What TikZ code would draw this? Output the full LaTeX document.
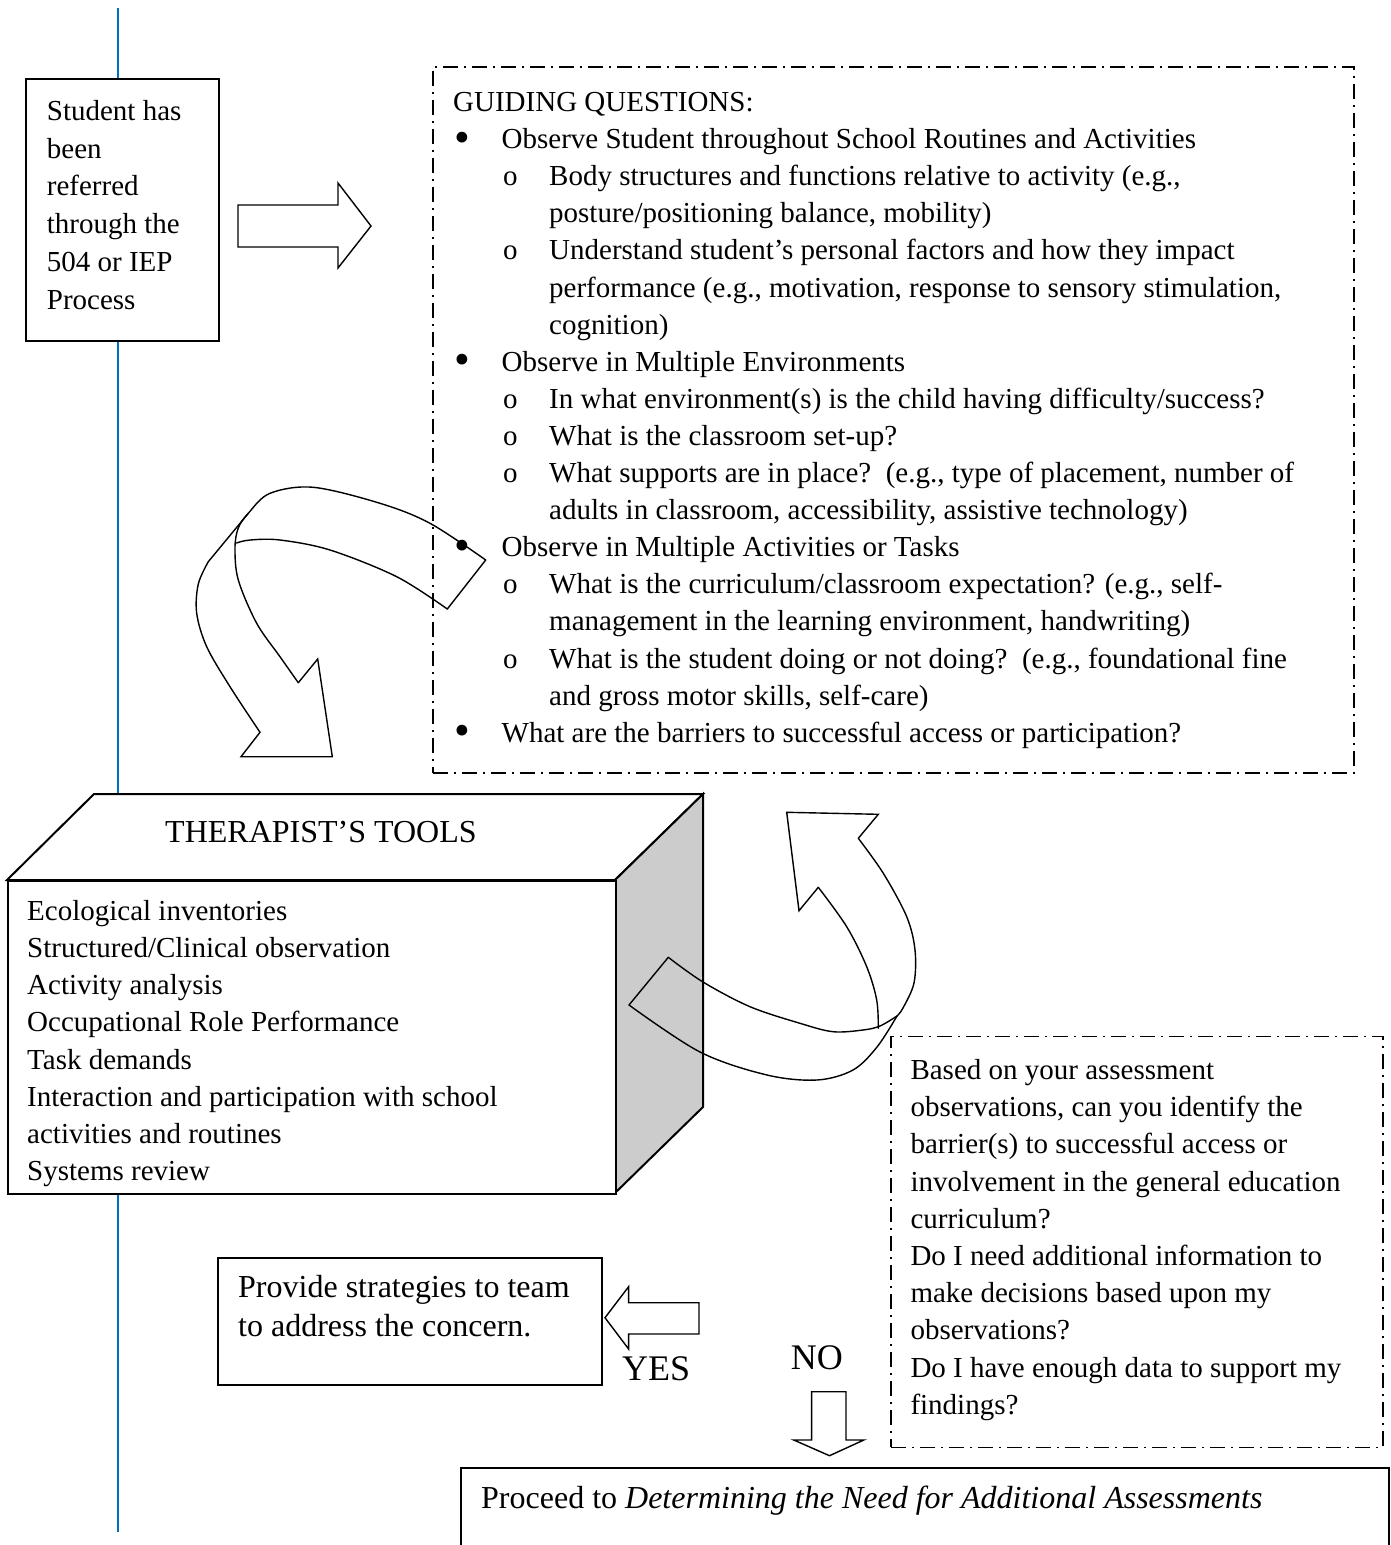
\documentclass[tikz,border=0pt]{standalone}
\usepackage{fontspec}
\setmainfont{Liberation Serif}
\definecolor{lineblue}{RGB}{0,112,192}
\definecolor{sidegray}{RGB}{204,204,204}
\newcommand\bigbul{\raisebox{-3.5pt}{\scalebox{1.55}{\textbullet}}}
\newcommand\gB{\hspace*{1pt}\makebox[47.5pt][l]{\bigbul}}
\newcommand\gC{\hspace*{50pt}\makebox[46pt][l]{o}}
\newcommand\gD{\hspace*{96pt}}
\tikzset{
  box/.style={draw, line width=2pt, fill=white, inner sep=0pt},
  ddot/.style={draw, line width=1.5pt, dash pattern=on 15pt off 6pt on 2pt off 6pt, inner sep=0pt},
  arr/.style={draw, line width=1.4pt, line join=miter, fill=white},
  curv/.style={draw, line width=1.4pt, line join=round, line cap=round},
  txt/.style={anchor=base west, inner sep=0pt},
}
\begin{document}
\begin{tikzpicture}[x=1pt,y=-1pt]
\useasboundingbox (0,0) rectangle (1390,1545);
\fill[white] (0,0) rectangle (1390,1545);
% blue vertical line
\coordinate (bt) at (118,8);
\coordinate (bb) at (118,1532);
\draw[lineblue, line width=2pt] (bt) -- (bb);

% student box
\node[box, anchor=north west, minimum width=193pt, minimum height=262pt] (student) at (25,78) {};
\node[txt] (studenttxt) at (46.7,120.5) {\parbox[t]{170pt}{\fontsize{29}{37.7}\selectfont Student has\\ been\\ referred\\ through the\\ 504 or IEP\\ Process}};

% block arrow right
\draw[arr] (238,205) -- (338,205) -- (338,183) -- (371,226) -- (338,268) -- (338,247) -- (238,247) -- cycle;

% guiding questions box
\node[ddot, anchor=north west, minimum width=921pt, minimum height=706pt] (guide) at (432,66) {};
\node[txt] (guidetxt) at (453,111.5) {\parbox[t]{900pt}{\fontsize{29}{37.1}\selectfont
GUIDING QUESTIONS:\\
\gB Observe Student throughout School Routines and Activities\\
\gC Body structures and functions relative to activity (e.g.,\\
\gD posture/positioning balance, mobility)\\
\gC Understand student’s personal factors and how they impact\\
\gD performance (e.g., motivation, response to sensory stimulation,\\
\gD cognition)\\
\gB Observe in Multiple Environments\\
\gC In what environment(s) is the child having difficulty/success?\\
\gC What is the classroom set-up?\\
\gC What supports are in place?\ \ (e.g., type of placement, number of\\
\gD adults in classroom, accessibility, assistive technology)\\
\gB Observe in Multiple Activities or Tasks\\
\gC What is the curriculum/classroom expectation? (e.g., self-\\
\gD management in the learning environment, handwriting)\\
\gC What is the student doing or not doing?\ \ (e.g., foundational fine\\
\gD and gross motor skills, self-care)\\
\gB What are the barriers to successful access or participation?}};

% therapist's tools 3D box
\draw[line width=2pt, fill=white, line join=miter] (7,880) -- (94,794) -- (703,794) -- (615,880) -- cycle;
\draw[line width=2pt, fill=sidegray, line join=miter] (615,880) -- (703,794) -- (703,1107) -- (615,1193) -- cycle;
\node[box, anchor=north west, minimum width=608pt, minimum height=313pt] (tools) at (7,880) {};
\node[txt] (toolstitle) at (165,842) {\fontsize{32}{38}\selectfont THERAPIST’S TOOLS};
\node[txt] (toolstxt) at (27,920.3) {\parbox[t]{580pt}{\fontsize{29}{37.2}\selectfont
Ecological inventories\\
Structured/Clinical observation\\
Activity analysis\\
Occupational Role Performance\\
Task demands\\
Interaction and participation with school\\
activities and routines\\
Systems review}};

% curved arrow 1 (from guiding box down to tools)
\draw[curv] plot[smooth, tension=0.55] coordinates {(485.7,560) (430,523.3) (380,503.3) (313.3,487.3) (270,493.3) (248.3,513.3) (238.3,528) (235,548) (238.3,580) (256.7,623.3) (280,656.7) (298.3,682.7)};
\draw[curv] plot[smooth, tension=0.55] coordinates {(447.3,609) (396.7,576.7) (330,550) (280,540) (250,540) (236.5,543)};
\draw[curv] (248.3,513.3) -- (208.3,561.7);
\draw[curv] plot[smooth, tension=0.55] coordinates {(208.3,561.7) (198.3,584) (196.7,613.3) (206.7,646.7) (230,686.7) (260,732.3)};
\draw[curv] (485.7,560) -- (447.3,609);
\draw[curv, line join=miter] (298.3,682.7) -- (317.7,659) -- (332.3,756.7) -- (241,756.7) -- (260,732.3);

% curved arrow 2 (from tools up to guiding box)
\draw[curv] (668.3,957.3) -- (629,1005);
\draw[curv] plot[smooth, tension=0.55] coordinates {(629,1005) (700,1052) (767,1075) (817,1080) (853,1070) (877,1047) (897,1016)};
\draw[curv] plot[smooth, tension=0.55] coordinates {(668.3,957.3) (703,982) (750,1006.7) (800,1023.3) (833,1031.7) (863,1030) (880,1026) (897,1016)};
\draw[curv] plot[smooth, tension=0.55] coordinates {(897,1016) (903,1008) (914,983) (915,950) (906.7,916.7) (883.3,873.3) (858.3,838.3)};
\draw[curv] plot[smooth, tension=0.55] coordinates {(818.3,887.3) (846.7,926.7) (866.7,966.7) (876.7,1000) (878.3,1028.3)};
\draw[curv, line join=miter] (818.3,887.3) -- (799,910.7) -- (786.7,812.3) -- (878.3,814.3) -- (858.3,838.3);

% decision box
\node[ddot, anchor=north west, minimum width=492pt, minimum height=411pt] (decide) at (890,1035.7) {};
\node[txt] (decidetxt) at (910.3,1079.5) {\parbox[t]{470pt}{\fontsize{29}{37.2}\selectfont
Based on your assessment\\
observations, can you identify the\\
barrier(s) to successful access or\\
involvement in the general education\\
curriculum?\\
Do I need additional information to\\
make decisions based upon my\\
observations?\\
Do I have enough data to support my\\
findings?}};

% provide strategies box
\node[box, anchor=north west, minimum width=383.7pt, minimum height=127.3pt] (provide) at (217,1256.7) {};
\node[txt] (providetxt) at (238,1297.7) {\parbox[t]{360pt}{\fontsize{32}{38.3}\selectfont Provide strategies to team\\ to address the concern.}};

% YES arrow
\draw[arr] (699,1302.7) -- (628.6,1302.7) -- (628.6,1286.7) -- (605,1317.7) -- (628.6,1349) -- (628.6,1334) -- (699,1334) -- cycle;
\node[txt] (yes) at (622,1380) {\fontsize{36}{40}\selectfont YES};

% NO arrow
\node[txt] (no) at (790.6,1369.3) {\fontsize{36}{40}\selectfont NO};
\draw[arr] (811.6,1391.7) -- (846,1391.7) -- (846,1440) -- (863.8,1440) -- (829.5,1455.7) -- (793.8,1440) -- (811.6,1440) -- cycle;

% proceed box
\node[box, anchor=north west, minimum width=928pt, minimum height=95pt] (proceed) at (460,1467) {};
\node[txt] (proceedtxt) at (481,1508.3) {\fontsize{32}{38}\selectfont Proceed to \textit{Determining the Need for Additional Assessments}};
\end{tikzpicture}
\end{document}
